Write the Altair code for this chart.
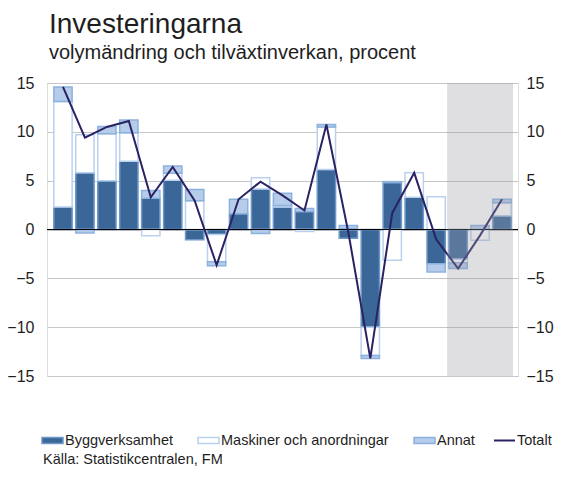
import json
import altair as alt
import pandas as pd

# ---------------- data ----------------
years = [1995, 1996, 1997, 1998, 1999, 2000, 2001, 2002, 2003, 2004, 2005,
         2006, 2007, 2008, 2009, 2010, 2011, 2012, 2013, 2014, 2015]
tick_years = [1995, 1997, 1999, 2001, 2003, 2005, 2007, 2009, 2011, 2013, 2015]
tick_labels = ["95", "97", "99", "01", "03", "05", "07", "09", "11", "13**", "15**"]

bygg = [2.3, 5.8, 5.0, 7.0, 3.2, 5.05, -1.05, -0.5, 1.6, 4.15, 2.3,
        1.85, 6.15, -0.9, -10.0, 4.8, 3.3, -3.5, -3.05, 0.0, 1.4]
maskiner = [10.8, 3.9, 4.8, 2.9, -0.65, 0.7, 2.95, -2.8, 0.0, 1.15, 0.15,
            -0.2, 4.35, 0.1, -2.9, -3.15, 2.5, 3.35, -0.35, -1.1, 1.35]
annat = [1.5, -0.35, 0.75, 1.3, 0.8, 0.75, 1.15, -0.4, 1.5, -0.4, 1.25,
         0.3, 0.25, 0.3, -0.3, 0.1, 0.0, -0.85, -0.6, 0.4, 0.35]
totalt = [14.6, 9.4, 10.5, 11.1, 3.3, 6.4, 2.95, -3.65, 3.1, 4.9, 3.5,
          1.95, 10.75, -0.3, -13.2, 1.7, 5.8, -1.0, -4.0, -0.6, 3.1]

series_names = ["Byggverksamhet", "Maskiner och anordningar", "Annat"]
line_name = "Totalt"
forecast_years = [2013, 2015]
y_ticks = [-15, -10, -5, 0, 5, 10, 15]

title = "Investeringarna"
subtitle = "volymändring och tilväxtinverkan, procent"
source = "Källa: Statistikcentralen, FM"

# ---------------- tables ----------------
rows = []
for i, yr in enumerate(years):
    for k, (name, vals) in enumerate(zip(series_names, [bygg, maskiner, annat])):
        if vals[i] != 0:
            rows.append({"year": yr, "serie": name, "ord": k, "value": vals[i]})
bars_df = pd.DataFrame(rows)
line_df = pd.DataFrame({"year": years, "serie": line_name, "value": totalt})
shade_df = pd.DataFrame({"start": [forecast_years[0]], "end": [forecast_years[1]]})
zero_df = pd.DataFrame({"y": [0]})
src_df = pd.DataFrame({"t": [source]})

FONT = "Liberation Sans"
TXT = "#1e1e1e"
fill_colors = ["#3a6798", "#ffffff", "#b5cdea"]
stroke_colors = ["#6f97c8", "#b9d1ee", "#8db1dd"]
line_color = "#2a2262"

x_scale = alt.Scale(domain=[1994.5, 2015.5], nice=False, zero=False)
y_scale = alt.Scale(domain=[-15, 15], nice=False)

label_expr = f"{json.dumps(tick_labels)}[indexof({json.dumps(tick_years)}, datum.value)]"

x_axis = alt.Axis(values=tick_years, labelExpr=label_expr, title=None, ticks=False,
                  tickSize=0, domain=False, grid=False, labelFontSize=15,
                  labelPadding=12, labelColor=TXT, labelFont=FONT, labelFlush=False)

y_left = alt.Axis(orient="left", values=y_ticks, title=None, ticks=False, tickSize=0,
                  domain=False, grid=True, gridColor="#c6c6c6", gridWidth=1,
                  labelFontSize=16, labelPadding=13, labelColor=TXT, labelFont=FONT)
y_right = alt.Axis(orient="right", values=y_ticks, title=None, ticks=False, tickSize=0,
                   domain=False, grid=False, labelFontSize=16, labelPadding=8,
                   labelColor=TXT, labelFont=FONT, labelAlign="left")

bar_legend = alt.Legend(title=None, orient="none", direction="horizontal",
                        legendX=-6, legendY=346, padding=0, labelLimit=400,
                        symbolType="M-1,-0.28H1V0.28H-1Z", symbolSize=441,
                        symbolStrokeWidth=1.5, labelFontSize=14.5, labelFont=FONT,
                        labelColor=TXT, labelOffset=1, columnPadding=22)
line_legend = alt.Legend(title=None, orient="none", direction="horizontal",
                         legendX=446, legendY=346, padding=0, labelLimit=200,
                         symbolType="stroke", symbolSize=441, symbolStrokeWidth=2,
                         labelFontSize=14.5, labelFont=FONT, labelColor=TXT, labelOffset=1)

bars = alt.Chart(bars_df).mark_bar(size=18.3, strokeWidth=1.5).encode(
    x=alt.X("year:Q", scale=x_scale, axis=x_axis),
    y=alt.Y("value:Q", stack="zero", scale=y_scale, axis=y_left),
    fill=alt.Fill("serie:N", scale=alt.Scale(domain=series_names, range=fill_colors),
                  legend=bar_legend, sort=series_names),
    stroke=alt.Stroke("serie:N", scale=alt.Scale(domain=series_names, range=stroke_colors),
                      legend=bar_legend, sort=series_names),
    order=alt.Order("ord:Q"),
)

zero = alt.Chart(zero_df).mark_rule(color="#000000", strokeWidth=1.2).encode(
    y=alt.Y("y:Q", scale=y_scale, axis=None)
)

line = alt.Chart(line_df).mark_line(strokeWidth=2).encode(
    x=alt.X("year:Q", scale=x_scale, axis=None),
    y=alt.Y("value:Q", scale=y_scale, axis=y_right),
    color=alt.Color("serie:N", scale=alt.Scale(domain=[line_name], range=[line_color]),
                    legend=line_legend),
)

shade = alt.Chart(shade_df).transform_calculate(
    s="datum.start - 0.5", e="datum.end + 0.5"
).mark_rect(fill="#9a9ca6", opacity=0.32).encode(
    x=alt.X("s:Q", scale=x_scale, axis=None),
    x2="e:Q",
)

src = alt.Chart(src_df).mark_text(align="left", baseline="alphabetic", fontSize=14.5,
                                  font=FONT, color=TXT).encode(
    text="t:N", x=alt.value(-4), y=alt.value(381)
)

chart = alt.layer(bars, zero, line, shade, src).resolve_axis(y="independent").properties(
    width=471,
    height=293,
    autosize=alt.AutoSizeParams(type="none"),
    padding={"left": 39, "top": 75, "right": 36, "bottom": 93},
    title=alt.TitleParams(text=title, subtitle=subtitle, anchor="start", frame="group",
                          dx=2, fontSize=28, font=FONT, fontWeight="normal", color=TXT,
                          subtitleFontSize=20, subtitleFont=FONT, subtitleColor=TXT,
                          subtitlePadding=4, offset=12),
).configure_view(stroke="#3a3a3a", strokeWidth=1.5).configure(background="white")

chart.save("out.html", embed_options={"renderer": "svg", "actions": False})
